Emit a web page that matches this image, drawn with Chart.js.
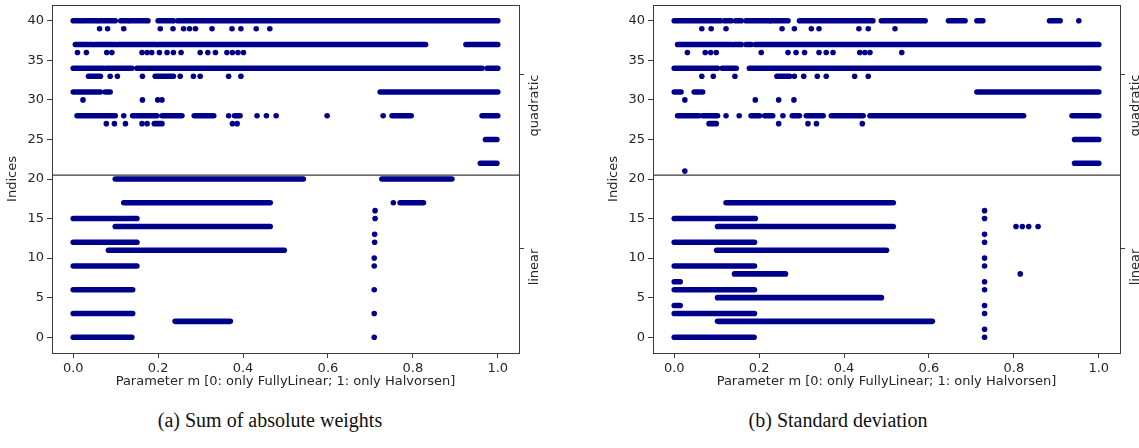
<!DOCTYPE html>
<html>
<head>
<meta charset="utf-8">
<title>Indices vs parameter m</title>
<script src="https://cdn.jsdelivr.net/npm/chart.js@4"></script>
<style>
  body { margin: 0; background: #fff; width: 1139px; height: 448px; overflow: hidden; position: relative; }
  .panel { position: absolute; top: 0; }
  .cap { position: absolute; top: 409px; font-family: "Liberation Serif", serif; font-size: 20px; color: #111;
         transform: translateX(-50%); white-space: nowrap; }
</style>
</head>
<body>
<div class="panel" style="left:0"><canvas id="sumChart" width="570" height="400"></canvas></div>
<div class="panel" style="left:601px"><canvas id="sdChart" width="570" height="400"></canvas></div>
<div class="cap" style="left:270px">(a) Sum of absolute weights</div>
<div class="cap" style="left:838px">(b) Standard deviation</div>

<script>
// axis setup
const xTicks = [0, 0.2, 0.4, 0.6, 0.8, 1.0];
const yTicks = [0, 5, 10, 15, 20, 25, 30, 35, 40];
const groupLabels = ['linear', 'quadratic'];
const groupTickAt = [11.2, 33.2];
const splitAt = 20.5;
const xTitle = 'Parameter m [0: only FullyLinear; 1: only Halvorsen]';

// (a) sum of absolute weights: continuous runs [index, from m, to m]
const sumRuns = [
  [40, 0.0, 0.016], [40, 0.022, 0.056], [40, 0.061, 0.099], [40, 0.112, 0.129], [40, 0.134, 0.176],
  [40, 0.2, 0.236], [40, 0.246, 1.0],
  [37, 0.005, 0.045], [37, 0.05, 0.1], [37, 0.105, 0.195], [37, 0.2, 0.83], [37, 0.925, 1.0],
  [34, 0.0, 0.072], [34, 0.078, 0.107], [34, 0.112, 0.138], [34, 0.15, 0.963], [34, 0.975, 1.0],
  [33, 0.036, 0.064], [33, 0.193, 0.236],
  [31, 0.0, 0.035], [31, 0.04, 0.064], [31, 0.075, 0.087], [31, 0.723, 1.0],
  [28, 0.009, 0.099], [28, 0.14, 0.197], [28, 0.209, 0.256], [28, 0.285, 0.331], [28, 0.38, 0.393],
  [28, 0.751, 0.796], [28, 0.963, 1.0],
  [27, 0.191, 0.209],
  [25, 0.971, 0.998], [22, 0.959, 0.998],
  [20, 0.099, 0.542], [20, 0.727, 0.892],
  [17, 0.119, 0.464], [17, 0.77, 0.825],
  [15, 0.0, 0.15], [14, 0.099, 0.464], [12, 0.0, 0.15], [11, 0.083, 0.497],
  [9, 0.0, 0.15], [6, 0.0, 0.14], [3, 0.0, 0.14], [2, 0.24, 0.37], [0, 0.0, 0.138]
];
// (a) single points [index, [m values]]
const sumDots = [
  [39, [0.062, 0.081, 0.119, 0.205, 0.235, 0.26, 0.274, 0.288, 0.327, 0.374, 0.395, 0.431, 0.463]],
  [36, [0.01, 0.031, 0.079, 0.091, 0.162, 0.174, 0.185, 0.203, 0.221, 0.236, 0.254, 0.299, 0.317, 0.335,
        0.362, 0.375, 0.388, 0.401]],
  [33, [0.087, 0.104, 0.163, 0.252, 0.283, 0.299, 0.366, 0.395]],
  [30, [0.023, 0.163, 0.199, 0.209]],
  [28, [0.119, 0.366, 0.433, 0.455, 0.478, 0.598, 0.73]],
  [27, [0.078, 0.097, 0.123, 0.162, 0.174, 0.375, 0.386]],
  [17, [0.754]],
  [16, [0.711]], [15, [0.711]], [13, [0.71]], [12, [0.71]], [10, [0.709]], [9, [0.709]],
  [6, [0.709]], [3, [0.709]], [0, [0.709]]
];

// (b) standard deviation: runs
const sdRuns = [
  [40, 0.0, 0.109], [40, 0.118, 0.134], [40, 0.144, 0.158], [40, 0.169, 0.224], [40, 0.228, 0.268],
  [40, 0.295, 0.468], [40, 0.488, 0.591], [40, 0.646, 0.685], [40, 0.713, 0.727], [40, 0.884, 0.909],
  [37, 0.008, 0.134], [37, 0.14, 0.158], [37, 0.169, 0.181], [37, 0.191, 1.0],
  [34, 0.0, 0.102], [34, 0.113, 0.146], [34, 0.177, 1.0],
  [33, 0.242, 0.272],
  [31, 0.0, 0.016], [31, 0.047, 0.067], [31, 0.713, 1.0],
  [28, 0.008, 0.059], [28, 0.067, 0.102], [28, 0.181, 0.201], [28, 0.213, 0.232], [28, 0.278, 0.295],
  [28, 0.311, 0.351], [28, 0.37, 0.445], [28, 0.461, 0.823], [28, 0.937, 1.0],
  [27, 0.082, 0.099],
  [25, 0.943, 1.0], [22, 0.943, 1.0],
  [17, 0.122, 0.516], [15, 0.0, 0.191], [14, 0.102, 0.516], [12, 0.0, 0.189], [11, 0.1, 0.5],
  [9, 0.0, 0.189], [8, 0.142, 0.262], [7, 0.0, 0.014], [6, 0.0, 0.189], [5, 0.102, 0.488],
  [4, 0.0, 0.014], [3, 0.0, 0.189], [2, 0.102, 0.608], [0, 0.0, 0.188]
];
// (b) single points
const sdDots = [
  [40, [0.953]],
  [39, [0.065, 0.087, 0.122, 0.254, 0.283, 0.323, 0.341, 0.435, 0.457, 0.52]],
  [36, [0.031, 0.073, 0.086, 0.099, 0.205, 0.268, 0.287, 0.307, 0.341, 0.358, 0.374, 0.437, 0.449, 0.461, 0.536]],
  [33, [0.065, 0.092, 0.143, 0.283, 0.305, 0.337, 0.358, 0.425, 0.457]],
  [30, [0.025, 0.191, 0.246, 0.282]],
  [28, [0.122, 0.153, 0.256]],
  [27, [0.246, 0.315, 0.335, 0.443]],
  [21, [0.025]],
  [14, [0.805, 0.82, 0.835, 0.857]],
  [8, [0.815]],
  [16, [0.731]], [15, [0.731]], [13, [0.731]], [12, [0.731]], [10, [0.731]], [9, [0.731]],
  [7, [0.731]], [6, [0.731]], [4, [0.731]], [3, [0.731]], [1, [0.731]], [0, [0.731]]
];

const DOT = '#00008b';
const AX = '#3a3a3a';
const TXT = '#262626';
const font = { family: 'DejaVu Sans', size: 13 };

const framePlugin = {
  id: 'frame',
  afterDraw(chart) {
    const { ctx, chartArea: a, scales: { y } } = chart;
    ctx.save();
    ctx.strokeStyle = AX;
    ctx.lineWidth = 1;
    ctx.beginPath();
    ctx.moveTo(a.left, a.top + 0.5);
    ctx.lineTo(a.right, a.top + 0.5);
    ctx.stroke();
    // split between linear and quadratic indices
    const py = y.getPixelForValue(splitAt);
    ctx.lineWidth = 1.2;
    ctx.beginPath();
    ctx.moveTo(a.left, py);
    ctx.lineTo(a.right, py);
    ctx.stroke();
    // group labels on the right
    ctx.fillStyle = TXT;
    ctx.font = '13px "DejaVu Sans"';
    ctx.textAlign = 'right';
    ctx.textBaseline = 'middle';
    groupLabels.forEach((lab, i) => {
      ctx.save();
      ctx.translate(a.right + 16, y.getPixelForValue(groupTickAt[i]));
      ctx.rotate(-Math.PI / 2);
      ctx.fillText(lab, 0, 0);
      ctx.restore();
    });
    ctx.restore();
  }
};

function makeChart(id, runs, dots) {
  const datasets = runs.map(([idx, x0, x1]) => ({
    type: 'line',
    data: [{ x: x0, y: idx }, { x: x1, y: idx }],
    borderColor: DOT,
    borderWidth: 5.6,
    borderCapStyle: 'round',
    pointRadius: 0,
    fill: false
  }));
  datasets.push({
    type: 'scatter',
    data: dots.flatMap(([idx, xs]) => xs.map(x => ({ x: x, y: idx }))),
    backgroundColor: DOT,
    borderWidth: 0,
    pointRadius: 2.8
  });

  const grid = { display: true, drawOnChartArea: false, drawTicks: true, tickLength: 5, color: AX };

  return new Chart(document.getElementById(id), {
    type: 'scatter',
    data: { datasets },
    options: {
      responsive: false,
      animation: false,
      layout: { padding: { top: 5, left: 0, right: 0, bottom: 0 } },
      plugins: { legend: { display: false }, tooltip: { enabled: false } },
      scales: {
        x: {
          type: 'linear', min: -0.05, max: 1.05,
          afterBuildTicks: s => { s.ticks = xTicks.map(v => ({ value: v })); },
          ticks: { callback: v => v.toFixed(1), font, color: TXT, padding: 3, maxRotation: 0, autoSkip: false },
          grid, border: { color: AX, width: 1 },
          title: { display: true, text: xTitle, font, color: TXT, padding: { top: 0, bottom: 11 } },
          afterFit: s => { s.height = 47; s.paddingLeft = 0; s.paddingRight = 0; }
        },
        y: {
          type: 'linear', position: 'left', min: -2, max: 42,
          afterBuildTicks: s => { s.ticks = yTicks.map(v => ({ value: v })); },
          ticks: { font, color: TXT, padding: 3, autoSkip: false },
          grid, border: { color: AX, width: 1 },
          title: { display: true, text: 'Indices', font, color: TXT, padding: { top: 5, bottom: 0 } },
          afterFit: s => { s.width = 52; s.paddingTop = 0; s.paddingBottom = 0; }
        },
        y2: {
          type: 'linear', position: 'right', min: -2, max: 42,
          afterBuildTicks: s => { s.ticks = groupTickAt.map(v => ({ value: v })); },
          ticks: { display: false },
          grid, border: { color: AX, width: 1 },
          afterFit: s => { s.width = 51; s.paddingTop = 0; s.paddingBottom = 0; }
        }
      }
    },
    plugins: [framePlugin]
  });
}

makeChart('sumChart', sumRuns, sumDots);
makeChart('sdChart', sdRuns, sdDots);
</script>
</body>
</html>
